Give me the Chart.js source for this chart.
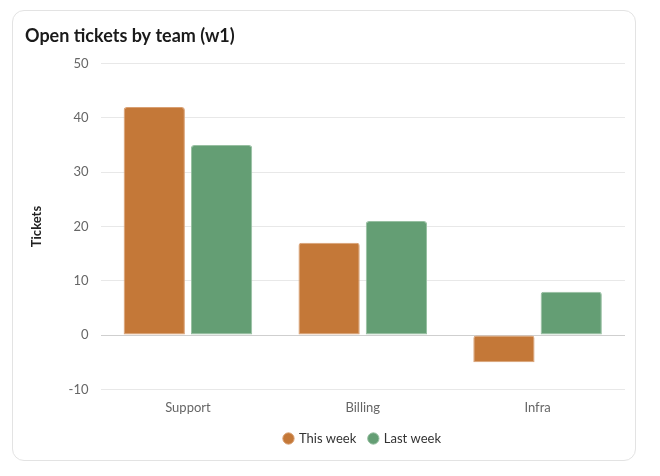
<!DOCTYPE html>
<html>
<head>
<meta charset="utf-8">
<script src="https://cdn.jsdelivr.net/npm/chart.js@4"></script>
<style>
  html, body { margin: 0; padding: 0; background: #fff; }
  body { width: 660px; height: 476px; position: relative; font-family: Lato, sans-serif; }
  .card {
    position: absolute; left: 12px; top: 10px; width: 622px; height: 449px;
    border: 1px solid #e3e3e3; border-radius: 12px; background: #fff;
  }
  .wrap { position: absolute; left: 12px; top: 12px; width: 600px; height: 432px; }
</style>
</head>
<body>
<div class="card"><div class="wrap"><canvas id="c"></canvas></div></div>
<script>
const categories = ["Support", "Billing", "Infra"];
const thisWeek = [42, 17, -5];
const lastWeek = [35, 21, 8];
const yTicks = { min: -10, max: 50, step: 10 };

Chart.defaults.font.family = "Lato, sans-serif";

new Chart(document.getElementById('c'), {
  type: 'bar',
  data: {
    labels: categories,
    datasets: [
      {
        label: 'This week', data: thisWeek,
        backgroundColor: '#C47838', borderColor: '#D9A073', borderWidth: 1,
        borderRadius: { topLeft: 3, topRight: 3, bottomLeft: 0, bottomRight: 0 },
        borderSkipped: false
      },
      {
        label: 'Last week', data: lastWeek,
        backgroundColor: '#649E74', borderColor: '#97BFA1', borderWidth: 1,
        borderRadius: { topLeft: 3, topRight: 3, bottomLeft: 0, bottomRight: 0 },
        borderSkipped: false
      }
    ]
  },
  options: {
    responsive: true,
    maintainAspectRatio: false,
    animation: false,
    layout: { padding: { left: 0, right: 0, top: 0, bottom: 0 } },
    datasets: { bar: { categoryPercentage: 0.77, barPercentage: 0.91 } },
    plugins: {
      title: {
        display: true, text: 'Open tickets by team (w1)', align: 'start',
        color: '#1a1a1a', font: { size: 18, weight: 'bold' },
        padding: { top: 2, bottom: 17 }
      },
      legend: {
        position: 'bottom',
        fullSize: false,
        labels: {
          usePointStyle: true, pointStyle: 'circle', boxWidth: 8, boxHeight: 8,
          color: '#333', font: { size: 13 }, padding: 13
        }
      },
      tooltip: { enabled: false }
    },
    scales: {
      x: {
        grid: { display: false },
        border: { display: false },
        ticks: { color: '#666', font: { size: 13 }, padding: 3 }
      },
      y: {
        min: yTicks.min, max: yTicks.max,
        ticks: { stepSize: yTicks.step, color: '#666', font: { size: 13 }, padding: 12 },
        border: { display: false },
        grid: {
          drawTicks: false,
          color: (ctx) => ctx.tick && ctx.tick.value === 0 ? '#cfcfcf' : '#e8e8e8'
        },
        title: { display: true, text: 'Tickets', color: '#222', font: { size: 13, weight: 'bold' }, padding: { bottom: 12 } }
      }
    }
  }
});
</script>
</body>
</html>
